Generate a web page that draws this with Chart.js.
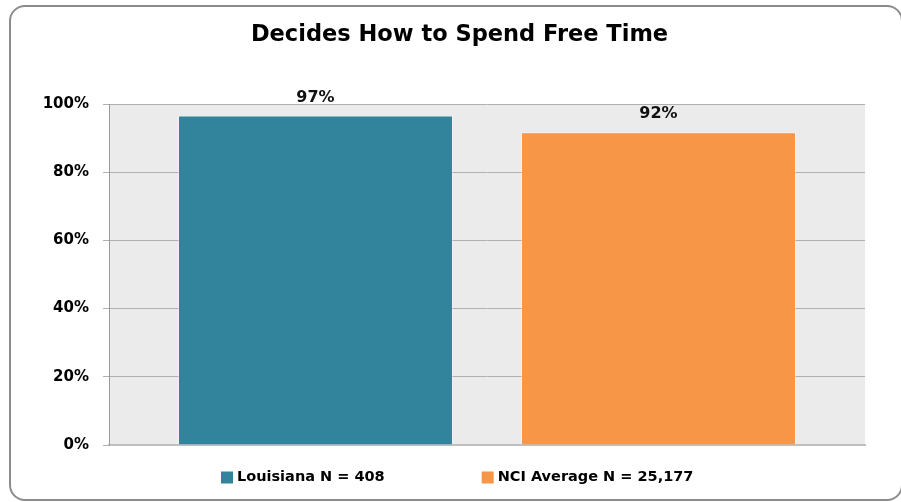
<!DOCTYPE html>
<html>
<head>
<meta charset="utf-8">
<script src="https://cdn.jsdelivr.net/npm/chart.js@4.4.1/dist/chart.umd.min.js"></script>
<style>
  html, body { margin: 0; padding: 0; background: #ffffff; overflow: hidden; }
  #wrap { position: relative; width: 901px; height: 502px; }
  #frame { position: absolute; left: 9px; top: 5px; width: 894px; height: 496px;
           box-sizing: border-box; border: 2px solid #8c8c8c; border-radius: 16px; }
  #c { position: absolute; left: 0; top: 0; }
</style>
</head>
<body>
<div id="wrap">
  <div id="frame"></div>
  <canvas id="c" width="901" height="502"></canvas>
</div>
<script>
const chartTitle = "Decides How to Spend Free Time";
const categories = [""];
const seriesNames = ["Louisiana N = 408", "NCI Average N = 25,177"];
const seriesValues = [[96.6], [91.7]];
const seriesColors = ["#31849b", "#f79646"];
const yTicks = [0, 20, 40, 60, 80, 100];

const FONT = "'DejaVu Sans', sans-serif";

const plotBg = {
  id: 'plotBg',
  beforeDraw(chart) {
    const {ctx, chartArea: a} = chart;
    ctx.save();
    ctx.fillStyle = '#ebebeb';
    ctx.fillRect(a.left, a.top, a.right - a.left, a.bottom - a.top);
    ctx.restore();
  }
};

const valueLabels = {
  id: 'valueLabels',
  afterDatasetsDraw(chart) {
    const ctx = chart.ctx;
    ctx.save();
    ctx.font = "bold 16px " + FONT;
    ctx.fillStyle = '#111111';
    ctx.textAlign = 'center';
    ctx.textBaseline = 'middle';
    chart.data.datasets.forEach((ds, i) => {
      const meta = chart.getDatasetMeta(i);
      meta.data.forEach((bar, j) => {
        ctx.fillText(Math.round(ds.data[j]) + '%', bar.x, bar.y - 18);
      });
    });
    ctx.restore();
  }
};

const bottomLegend = {
  id: 'bottomLegend',
  afterDraw(chart) {
    const ctx = chart.ctx;
    ctx.save();
    ctx.font = "bold 14.5px " + FONT;
    ctx.textBaseline = 'middle';
    ctx.textAlign = 'left';
    let x = 221;
    const cy = 477.5;
    chart.data.datasets.forEach((ds) => {
      ctx.fillStyle = ds.backgroundColor;
      ctx.fillRect(x, cy - 6, 12, 12);
      ctx.fillStyle = '#000000';
      ctx.fillText(ds.label, x + 16, cy);
      x += 16 + ctx.measureText(ds.label).width + 97;
    });
    ctx.restore();
  }
};

new Chart(document.getElementById('c'), {
  type: 'bar',
  data: {
    labels: categories,
    datasets: seriesNames.map((name, i) => ({
      label: name,
      data: seriesValues[i],
      backgroundColor: seriesColors[i],
      borderColor: 'rgba(255,255,255,0.35)',
      borderWidth: 1,
      categoryPercentage: 0.9074,
      barPercentage: 0.8017
    }))
  },
  options: {
    responsive: false,
    animation: false,
    devicePixelRatio: 1,
    layout: { padding: { left: 18, right: 0, top: 0, bottom: 57 } },
    plugins: {
      legend: { display: false },
      tooltip: { enabled: false },
      title: {
        display: true,
        text: chartTitle,
        color: '#000000',
        font: { family: FONT, size: 22.5, weight: 'bold' },
        padding: { top: 22, bottom: 55 }
      }
    },
    scales: {
      x: {
        afterFit(scale) { scale.height = 0; },
        ticks: { display: false },
        grid: { display: false },
        border: { display: true, color: '#bfbfbf', width: 2 }
      },
      y: {
        min: 0,
        max: 100,
        afterFit(scale) { scale.width = 91; },
        afterBuildTicks(scale) { scale.ticks = yTicks.map(v => ({ value: v })); },
        ticks: {
          padding: 14,
          color: '#000000',
          font: { family: FONT, size: 15, weight: 'bold' },
          callback: (v) => v + '%'
        },
        grid: { color: '#b0b0b0', lineWidth: 1, tickLength: 6, drawTicks: true },
        border: { display: true, color: '#9a9a9a', width: 1 }
      },
      yRight: {
        position: 'right',
        min: 0,
        max: 100,
        afterFit(scale) { scale.width = 36; },
        ticks: { display: false },
        grid: { display: false, drawOnChartArea: false },
        border: { display: false }
      }
    }
  },
  plugins: [plotBg, valueLabels, bottomLegend]
});
</script>
</body>
</html>
